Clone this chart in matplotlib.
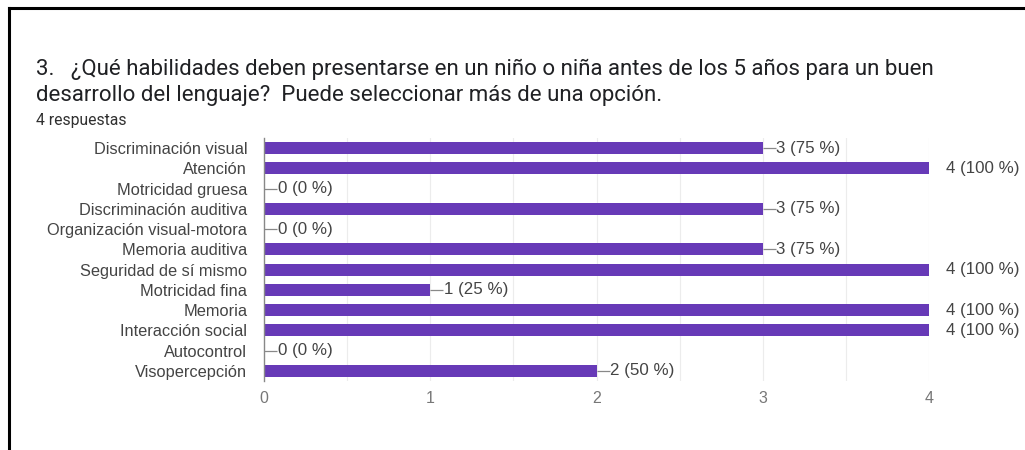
import matplotlib
matplotlib.use("Agg")
import matplotlib.pyplot as plt
from matplotlib.lines import Line2D

categories = [
    "Discriminación visual",
    "Atención",
    "Motricidad gruesa",
    "Discriminación auditiva",
    "Organización visual-motora",
    "Memoria auditiva",
    "Seguridad de sí mismo",
    "Motricidad fina",
    "Memoria",
    "Interacción social",
    "Autocontrol",
    "Visopercepción",
]
counts = [3, 4, 0, 3, 0, 3, 4, 1, 4, 4, 0, 2]
percents = [75, 100, 0, 75, 0, 75, 100, 25, 100, 100, 0, 50]
xticks = [0, 1, 2, 3, 4]
title_lines = [
    "3.   ¿Qué habilidades deben presentarse en un niño o niña antes de los 5 años para un buen",
    "desarrollo del lenguaje?  Puede seleccionar más de una opción.",
]
subtitle = "4 respuestas"

W, H = 1025, 450
fig = plt.figure(figsize=(W / 100, H / 100), dpi=100)
fig.patch.set_facecolor("white")

# frame lines (top and left) of the screenshot
fig.add_artist(Line2D([9 / W, 1], [1 - 7.5 / H, 1 - 7.5 / H], color="black", lw=2.2, transform=fig.transFigure))
fig.add_artist(Line2D([9 / W, 9 / W], [0, 1 - 7.5 / H], color="black", lw=2.2, transform=fig.transFigure))

title_font = ["Roboto", "DejaVu Sans"]
fig.text(36 / W, 1 - 69 / H, title_lines[0], fontsize=16, color="#202124",
         family=title_font, va="center", ha="left")
fig.text(36 / W, 1 - 96 / H, title_lines[1], fontsize=16, color="#202124",
         family=title_font, va="center", ha="left")
fig.text(36 / W, 1 - 120 / H, subtitle, fontsize=11.3, color="#303030",
         family=title_font, va="center", ha="left")

left, right = 264 / W, 929 / W
top, bottom = 1 - 138 / H, 1 - 381 / H
ax = fig.add_axes([left, bottom, right - left, top - bottom])

purple = "#673ab7"
lab_font = ["Liberation Sans", "DejaVu Sans"]
y = list(range(len(categories)))
ax.barh(y, counts, height=0.6, color=purple, zorder=3)
ax.set_ylim(len(categories) - 0.5, -0.5)
ax.set_xlim(0, 4)

ax.set_yticks(y)
ax.set_yticklabels(categories, fontsize=11.8, color="#444444", family=lab_font)
ax.set_xticks(xticks)
ax.set_xticklabels([str(t) for t in xticks], fontsize=11.5, color="#777777", family=lab_font)
ax.tick_params(axis="y", length=0, pad=12)
ax.tick_params(axis="x", length=0, pad=7)

for v in [0.5, 1, 1.5, 2, 2.5, 3, 3.5, 4]:
    ax.axvline(v, color="#ececec", lw=0.8, zorder=1)

for s in ["top", "right", "bottom"]:
    ax.spines[s].set_visible(False)
ax.spines["left"].set_color("#888888")
ax.spines["left"].set_linewidth(1.0)
ax.spines["left"].set_zorder(4)

unit = (929 - 264) / 4.0
for i, (c, p) in enumerate(zip(counts, percents)):
    label = f"{c} ({p} %)"
    if c >= 4:
        ax.annotate(label, xy=(c, i), xytext=(12, 0), textcoords="offset points",
                    va="center", ha="left", fontsize=12.2, color="#444444",
                    family=lab_font, annotation_clip=False)
    else:
        ax.plot([c, c + 13 / unit], [i, i], color="#888888", lw=0.9, zorder=3,
                solid_capstyle="butt")
        ax.annotate(label, xy=(c + 13 / unit, i), xytext=(0.5, 0), textcoords="offset points",
                    va="center", ha="left", fontsize=12.2, color="#444444",
                    family=lab_font, annotation_clip=False)

fig.savefig("out.png", dpi=100)
